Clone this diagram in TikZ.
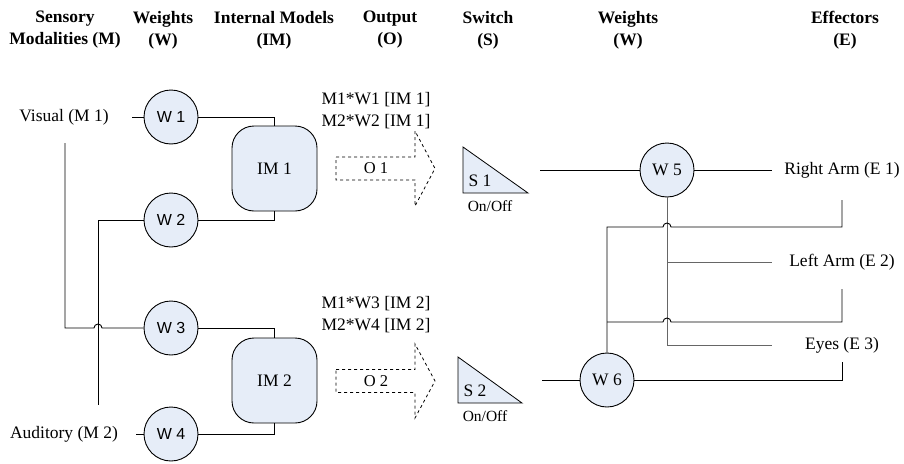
\documentclass[tikz,border=0pt]{standalone}
\usepackage{fontspec}
\setmainfont{Liberation Serif}
\newfontfamily\wfont{Liberation Sans}
\definecolor{nodeblue}{HTML}{E6EDF8}
\definecolor{wiregray}{HTML}{666666}
\usetikzlibrary{positioning}

\begin{document}
\begin{tikzpicture}[x=1pt, y=1pt, line width=0.9pt,
      every node/.style={font=\fontsize{17.5}{22}\selectfont},
      head/.style={font=\fontsize{17.5}{22}\selectfont\bfseries, align=center},
      wt/.style={circle, draw, fill=nodeblue, minimum size=54pt, inner sep=0pt},
      wts/.style={wt, font=\fontsize{16}{18}\selectfont\wfont},
      im/.style={draw, fill=nodeblue, rounded corners=22pt,
                 minimum width=85pt, minimum height=85pt},
      outarr/.style={draw, dashed, line width=0.8pt},
      sw/.style={draw, fill=nodeblue, line width=0.8pt},
      small/.style={font=\fontsize{15.5}{18}\selectfont},
      olbl/.style={font=\fontsize{16.5}{18}\selectfont},
      gwire/.style={wiregray}
    ]
      \useasboundingbox (0,0) rectangle (904,-463);

      \node[head] (hm) at (65,-30) {Sensory\\Modalities (M)};
      \node[head] (hw) at (163,-30) {Weights\\(W)};
      \node[head] (him) at (274,-30) {Internal Models\\(IM)};
      \node[head] (ho) at (390,-30) {Output\\(O)};
      \node[head] (hs) at (488,-30) {Switch\\(S)};
      \node[head] (hw2) at (628,-30) {Weights\\(W)};
      \node[head] (he) at (845,-30) {Effectors\\(E)};

      \node (m1) at (64,-117) {Visual (M 1)};
      \node (m2) at (64,-434) {Auditory (M 2)};
      \coordinate (m1r) at (132,-117);
      \coordinate (m2r) at (136,-434);
      \coordinate (m1v) at (65,-143);
      \coordinate (m2v) at (98,-405);

      \node[wts] (w1) at (171,-117) {W 1};
      \node[wts] (w2) at (171,-220) {W 2};
      \node[wts] (w3) at (171,-328) {W 3};
      \node[wts] (w4) at (171,-434) {W 4};

      \node[im] (im1) at (274.5,-168.5) {IM 1};
      \node[im] (im2) at (274.5,-380.5) {IM 2};

      \draw (m1r) -- (w1);
      \draw (m2r) -- (w4);
      \draw (w1) -| (im1);
      \draw (w2) -| (im1);
      \draw (w3) -| (im2);
      \draw (w4) -| (im2);
      \draw (w2) -| (m2v);
      \draw (m1v) |- (94,-328) arc (180:0:4) -- (w3);

      \node[align=center] (o1txt) at (376,-111) {M1*W1 [IM 1]\\M2*W2 [IM 1]};
      \node[align=center] (o2txt) at (376,-315) {M1*W3 [IM 2]\\M2*W4 [IM 2]};
      \draw[outarr] (336,-157) -- (415,-157) -- (415,-131) -- (435,-168.5)
        -- (415,-206) -- (415,-180) -- (336,-180) -- cycle;
      \draw[outarr] (336,-369.5) -- (415,-369.5) -- (415,-344) -- (435,-381)
        -- (415,-418) -- (415,-392.5) -- (336,-392.5) -- cycle;
      \node[olbl] (o1) at (376,-168.5) {O 1};
      \node[olbl] (o2) at (376,-381) {O 2};

      \draw[sw] (463,-147) -- (463,-193) -- (528,-193) -- cycle;
      \draw[sw] (458,-357) -- (458,-403) -- (522,-403) -- cycle;
      \node (s1) at (480,-181) {S 1};
      \node (s2) at (475,-391) {S 2};
      \node[small] (s1lbl) at (490,-206) {On/Off};
      \node[small] (s2lbl) at (485,-416) {On/Off};
      \coordinate (s1out) at (540,-170);
      \coordinate (s2out) at (542,-380);

      \node[wt] (w5) at (667,-170) {W 5};
      \node[wt] (w6) at (607,-380) {W 6};

      \node (e1) at (842,-170) {Right Arm (E 1)};
      \node (e2) at (842,-262) {Left Arm (E 2)};
      \node (e3) at (842,-345) {Eyes (E 3)};
      \coordinate (e1l) at (772,-170);
      \coordinate (e2l) at (772,-262);
      \coordinate (e3l) at (772,-345);
      \coordinate (e1s) at (842,-200);
      \coordinate (e2s) at (842,-289);
      \coordinate (e3s) at (842,-362);

      \draw (s1out) -- (w5);
      \draw (s2out) -- (w6);
      \draw (w5) -- (e1l);
      \draw[gwire] (w5) |- (e3l);
      \draw[gwire] (w5 |- e2l) -- (e2l);
      \draw (w6) -- (607,-227) -- (663,-227) arc (180:0:4) -- (842,-227) -- (e1s);
      \draw (607,-322) -- (663,-322) arc (180:0:4) -- (842,-322) -- (e2s);
      \draw (w6) -| (e3s);
    \end{tikzpicture}
\end{document}
